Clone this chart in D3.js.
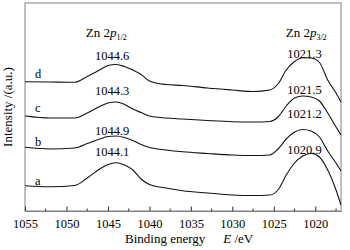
<!DOCTYPE html>
<html>
<head>
<meta charset="utf-8">
<script src="https://cdn.jsdelivr.net/npm/d3@7"></script>
<style>
  body { margin: 0; background: #fff; }
  svg, svg text { font-family: "Liberation Serif", "Times New Roman", "DejaVu Serif", serif !important; }
  svg text { fill: #000; }
</style>
</head>
<body>
<script>
// XPS Zn 2p spectra, four samples a-d (offset vertically)
var energy = [1055, 1052, 1049, 1047.5, 1046, 1045, 1044, 1043, 1042, 1041, 1040, 1038, 1036,
              1033, 1030, 1027.5, 1025.5, 1024.5, 1023.5, 1022.5, 1021.5, 1020.5, 1019.5, 1018.5, 1017.5, 1016.9];

var seriesA = [25.3, 24.3, 25.5, 33, 42, 46.5, 48.3, 46, 41, 32, 26.5, 23, 20.3,
               18, 16, 15.5, 16, 21, 36, 48, 55, 57.7, 54, 41, 21, 6];
var seriesB = [63.7, 62, 63, 67.5, 72, 74.5, 75, 73.5, 70.5, 66.5, 63.5, 61, 59.2,
               57.5, 56, 55.5, 56, 62, 72, 79, 81.5, 80, 74, 60, 48, 40];
var seriesC = [95, 93, 93, 98, 104.5, 108, 109, 106.5, 102, 98.5, 95, 93, 92,
               90.5, 89.3, 89, 89.5, 94, 105, 113, 115, 114, 110, 98, 84, 76];
var seriesD = [129.3, 129, 128.7, 134.5, 141, 145.5, 146.5, 144.5, 141, 136.5, 130, 126.5, 125.5,
               123, 121, 119.5, 121, 127, 141, 149.5, 153.3, 153, 148.5, 131, 118, 109];

var sampleNames = ['a', 'b', 'c', 'd'];
var allSeries = [seriesA, seriesB, seriesC, seriesD];

// peak positions (eV) as printed, a..d
var peak12 = ['1044.1', '1044.9', '1044.3', '1044.6'];
var peak32 = ['1020.9', '1021.2', '1021.5', '1021.3'];
// intensity level of the label baselines
var label12Y = [55, 76.5, 116.5, 151.5];
var label32Y = [57.5, 93.5, 117.5, 153.5];
var nameY = [26, 65.5, 99.5, 133.5];

var xTicks = [1055, 1050, 1045, 1040, 1035, 1030, 1025, 1020];

var margin = {top: 3, right: 9, bottom: 39, left: 25},
    w = 350 - margin.left - margin.right,
    h = 250 - margin.top - margin.bottom;

var xScale = d3.scaleLinear().domain([1055, 1016.9]).range([0, w]);
var yScale = d3.scaleLinear().domain([0, 208]).range([h, 0]);

var svg = d3.select('body').append('svg')
    .attr('width', 350)
    .attr('height', 250)
  .append('g')
    .attr('transform', 'translate(' + margin.left + ',' + margin.top + ')');

// frame
svg.append('rect')
  .attr('x', 0).attr('y', 0)
  .attr('width', w).attr('height', h)
  .attr('fill', 'none')
  .attr('stroke', '#808080')
  .attr('stroke-width', 1);

// minor ticks
var minor = d3.range(1052.5, 1016.9, -5);
svg.selectAll('.minor')
  .data(minor)
  .enter()
  .append('line')
  .attr('x1', function (d) { return xScale(d); })
  .attr('x2', function (d) { return xScale(d); })
  .attr('y1', h)
  .attr('y2', h - 2.5)
  .attr('stroke', '#333');

var xAxis = d3.axisBottom(xScale)
  .tickValues(xTicks)
  .tickSizeInner(-4.5)
  .tickSizeOuter(0)
  .tickPadding(8)
  .tickFormat(d3.format('d'));

var gx = svg.append('g')
    .attr('transform', 'translate(0,' + h + ')')
    .call(xAxis)
    .attr('font-family', null)
    .attr('font-size', null);
gx.select('.domain').attr('stroke', '#808080');
gx.selectAll('.tick line').attr('stroke', '#333');
gx.selectAll('.tick text')
  .style('font-size', '12.5px')
  .attr('fill', '#000');

// axis titles
var xt = svg.append('text')
  .attr('x', 100)
  .attr('y', 243 - margin.top)
  .style('font-size', '13px');
xt.append('tspan').text('Binding energy');
xt.append('tspan').attr('dx', 18).style('font-style', 'italic').text('E');
xt.append('tspan').text(' /eV');

svg.append('text')
  .attr('transform', 'translate(' + (12 - margin.left) + ',' + (h / 2) + ') rotate(-90)')
  .attr('text-anchor', 'middle')
  .style('font-size', '13px')
  .text('Intensity /(a.u.)');

// spectra
var line = d3.line()
  .x(function (d) { return xScale(d[0]); })
  .y(function (d) { return yScale(d[1]); })
  .curve(d3.curveMonotoneX);

svg.selectAll('.spec')
  .data(allSeries)
  .enter()
  .append('path')
  .attr('d', function (s) {
    return line(energy.map(function (e, i) { return [e, s[i]]; }));
  })
  .attr('fill', 'none')
  .attr('stroke', '#111')
  .attr('stroke-width', 1.1);

// sample letters
svg.selectAll('.name')
  .data(sampleNames)
  .enter()
  .append('text')
  .attr('x', xScale(1053.8))
  .attr('y', function (d, i) { return yScale(nameY[i]); })
  .style('font-size', '12.5px')
  .text(function (d) { return d; });

// peak value labels
svg.selectAll('.p12')
  .data(peak12)
  .enter()
  .append('text')
  .attr('x', xScale(1044.5))
  .attr('y', function (d, i) { return yScale(label12Y[i]); })
  .attr('text-anchor', 'middle')
  .style('font-size', '12.5px')
  .text(function (d) { return d; });

svg.selectAll('.p32')
  .data(peak32)
  .enter()
  .append('text')
  .attr('x', xScale(1021.3))
  .attr('y', function (d, i) { return yScale(label32Y[i]); })
  .attr('text-anchor', 'middle')
  .style('font-size', '12.5px')
  .text(function (d) { return d; });

// peak titles
[[1045.2, '1/2'], [1021.1, '3/2']].forEach(function (p) {
  var t = svg.append('text')
    .attr('x', xScale(p[0]))
    .attr('y', 37 - margin.top)
    .attr('text-anchor', 'middle')
    .style('font-size', '13px');
  t.append('tspan').text('Zn 2');
  t.append('tspan').style('font-style', 'italic').text('p');
  t.append('tspan').attr('dy', 3).style('font-size', '8px').text(p[1]);
});
</script>
</body>
</html>
